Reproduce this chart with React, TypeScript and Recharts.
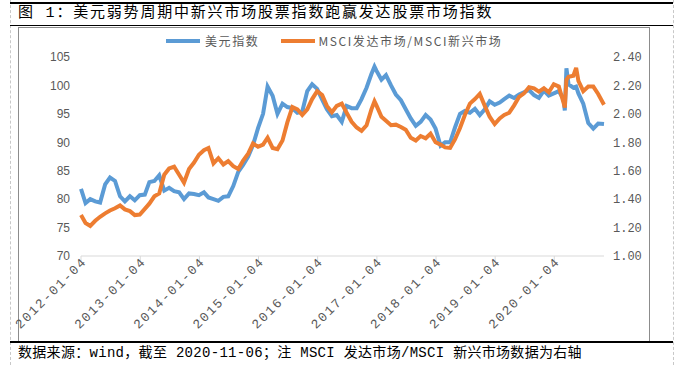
import React from 'react';
import { LineChart, Line, XAxis, YAxis, Legend } from 'recharts';

// dates of the sampled points (monthly, plus a few turning points)
const dates = [
  '2012-01-04', '2012-02-01', '2012-03-01', '2012-04-01', '2012-05-01', '2012-06-01', '2012-07-01', '2012-08-01', '2012-09-01', '2012-10-01', '2012-11-01', '2012-12-01',
  '2013-01-01', '2013-02-01', '2013-03-01', '2013-04-01', '2013-05-01', '2013-06-01', '2013-07-01', '2013-08-01', '2013-09-01', '2013-10-01', '2013-11-01', '2013-12-01',
  '2014-01-01', '2014-02-01', '2014-03-01', '2014-04-01', '2014-05-01', '2014-06-01', '2014-07-01', '2014-08-01', '2014-09-01', '2014-10-01', '2014-11-01', '2014-12-01',
  '2015-01-01', '2015-02-01', '2015-03-01', '2015-04-01', '2015-05-01', '2015-06-01', '2015-07-01', '2015-08-01', '2015-09-01', '2015-10-01', '2015-11-01', '2015-12-01',
  '2016-01-01', '2016-02-01', '2016-03-01', '2016-04-01', '2016-05-01', '2016-06-01', '2016-07-01', '2016-08-01', '2016-09-01', '2016-10-01', '2016-11-01', '2016-12-01', '2016-12-20',
  '2017-01-01', '2017-02-01', '2017-03-01', '2017-04-01', '2017-05-01', '2017-06-01', '2017-07-01', '2017-08-01', '2017-09-01', '2017-10-01', '2017-11-01', '2017-12-01',
  '2018-01-01', '2018-02-01', '2018-03-01', '2018-04-01', '2018-05-01', '2018-06-01', '2018-07-01', '2018-08-01', '2018-09-01', '2018-10-01', '2018-11-01', '2018-12-01',
  '2019-01-01', '2019-02-01', '2019-03-01', '2019-04-01', '2019-05-01', '2019-06-01', '2019-07-01', '2019-08-01', '2019-09-01', '2019-10-01', '2019-11-01', '2019-12-01',
  '2020-01-01', '2020-02-01', '2020-03-01', '2020-03-09', '2020-03-19', '2020-04-01', '2020-05-01', '2020-05-18', '2020-06-01', '2020-07-01', '2020-08-01', '2020-09-01', '2020-10-01', '2020-11-06',
];

// 美元指数 (left axis)
const dxy = [
  81.8, 79.3, 80.0, 79.6, 79.4, 82.6, 83.8, 83.2, 80.5, 79.6, 80.5, 79.8,
  80.7, 80.8, 83.0, 83.2, 84.2, 81.5, 82.0, 81.4, 81.2, 80.0, 81.0, 80.9,
  80.7, 81.2, 80.3, 80.0, 79.7, 80.4, 80.5, 82.3, 84.8, 86.0, 87.5, 89.5,
  92.5, 95.0, 99.8, 98.2, 95.0, 96.8, 96.2, 96.0, 95.2, 95.4, 99.0, 100.2,
  99.4, 97.5, 95.8, 94.6, 94.8, 93.6, 96.4, 96.0, 96.0, 97.6, 99.6, 102.0, 103.3,
  102.6, 101.0, 101.8, 100.0, 98.4, 97.4, 95.8, 94.2, 92.9, 93.6, 94.8, 94.0,
  92.4, 89.4, 90.0, 90.0, 92.6, 95.0, 95.5, 95.2, 95.9, 94.8, 95.8, 97.2,
  96.6, 97.0, 97.6, 98.2, 97.8, 98.4, 98.8, 99.2, 98.3, 97.8, 99.1, 98.2,
  98.6, 99.0, 97.6, 95.6, 103.0, 100.2, 99.6, 99.8, 98.6, 96.8, 93.4, 92.4, 93.3, 93.2,
];

// MSCI发达市场/MSCI新兴市场 (right axis)
const ratio = [
  1.288, 1.232, 1.212, 1.248, 1.276, 1.300, 1.320, 1.336, 1.356, 1.328, 1.316, 1.288,
  1.292, 1.332, 1.368, 1.420, 1.440, 1.572, 1.616, 1.628, 1.572, 1.516, 1.612, 1.656,
  1.712, 1.744, 1.760, 1.652, 1.688, 1.644, 1.668, 1.632, 1.612, 1.672, 1.720, 1.792,
  1.768, 1.784, 1.832, 1.760, 1.752, 1.812, 1.940, 2.048, 2.032, 1.992, 2.032, 2.104,
  2.160, 2.132, 2.056, 2.012, 2.056, 2.072, 2.008, 1.944, 1.904, 1.880, 1.920, 2.032, 2.088,
  2.060, 1.980, 1.952, 1.920, 1.924, 1.908, 1.888, 1.832, 1.812, 1.844, 1.828, 1.860,
  1.800, 1.784, 1.764, 1.760, 1.820, 1.900, 1.992, 2.072, 2.104, 2.140, 2.056, 1.980,
  1.928, 1.968, 1.992, 2.008, 2.060, 2.120, 2.144, 2.188, 2.180, 2.156, 2.180, 2.152,
  2.208, 2.192, 2.080, 2.044, 2.240, 2.260, 2.268, 2.324, 2.232, 2.160, 2.192, 2.192, 2.140, 2.064,
];

const xTickLabels = [
  '2012-01-04', '2013-01-04', '2014-01-04', '2015-01-04', '2016-01-04',
  '2017-01-04', '2018-01-04', '2019-01-04', '2020-01-04',
];
const leftTicks = [70, 75, 80, 85, 90, 95, 100, 105];
const rightTicks = [1.0, 1.2, 1.4, 1.6, 1.8, 2.0, 2.2, 2.4];

const data = dates.map((d, i) => ({ t: Date.parse(d), dxy: dxy[i], ratio: ratio[i] }));

const BLUE = '#5B9BD5';
const ORANGE = '#ED7D31';
const GREY = '#595959';
const MONO = "'Liberation Mono', 'Noto Sans CJK SC', monospace";
const CJK = "'Noto Sans CJK SC', sans-serif";

const fmtDate = (v: number) => new Date(v).toISOString().slice(0, 10);

const XTick = ({ x, y, payload }: any) => (
  <g transform={`translate(${x},${y})`}>
    <text x={5} y={4} textAnchor="end" transform="rotate(-45)" fill={GREY} fontSize={13} letterSpacing={1.7} fontFamily={MONO}>
      {fmtDate(payload.value)}
    </text>
  </g>
);

const LegendBox = () => (
  <div style={{ display: 'flex', alignItems: 'center', fontFamily: CJK, fontSize: 12, color: GREY, letterSpacing: 1.6 }}>
    <svg width={34} height={6} style={{ marginRight: 5 }}>
      <line x1={0} y1={3} x2={34} y2={3} stroke={BLUE} strokeWidth={4} />
    </svg>
    <span style={{ marginRight: 22 }}>美元指数</span>
    <svg width={34} height={6} style={{ marginRight: 3 }}>
      <line x1={0} y1={3} x2={34} y2={3} stroke={ORANGE} strokeWidth={4} />
    </svg>
    <span>MSCI发达市场/MSCI新兴市场</span>
  </div>
);

export default function App() {
  return (
    <div style={{ position: 'absolute', left: 0, top: 0, width: 685, height: 365, background: '#fff', overflow: 'hidden' }}>
      {/* page guides */}
      <div style={{ position: 'absolute', left: 10, top: 0, height: 365, borderLeft: '1px dashed #c8c8c8' }} />
      <div style={{ position: 'absolute', left: 673, top: 0, height: 365, borderLeft: '1px dashed #c8c8c8' }} />
      <div style={{ position: 'absolute', left: 10, top: 2, width: 663, borderTop: '2px solid #000' }} />
      <div style={{ position: 'absolute', left: 18, top: 4, fontFamily: MONO, fontSize: 15, lineHeight: '20px', letterSpacing: 1.8, color: '#000', whiteSpace: 'nowrap' }}>
        图 1：美元弱势周期中新兴市场股票指数跑赢发达股票市场指数
      </div>
      <div style={{ position: 'absolute', left: 10, top: 25, width: 663, borderTop: '1px solid #000' }} />
      <div style={{ position: 'absolute', left: 18, top: 27, width: 630, height: 313, border: '1px solid #8c8c8c' }} />
      <div style={{ position: 'absolute', left: 10, top: 341, width: 663, borderTop: '2px solid #000' }} />
      <div style={{ position: 'absolute', left: 18, top: 343, fontFamily: MONO, fontSize: 14, lineHeight: '20px', letterSpacing: 0.3, color: '#000', whiteSpace: 'nowrap' }}>
        数据来源：wind，截至 2020-11-06；注 MSCI 发达市场/MSCI 新兴市场数据为右轴
      </div>

      <div style={{ position: 'absolute', left: 0, top: 0 }}>
        <LineChart width={685} height={365} data={data} margin={{ top: 40, right: 0, bottom: 49, left: 0 }}>
          <XAxis
            dataKey="t"
            type="number"
            scale="time"
            domain={[Date.parse('2012-01-04'), Date.parse('2020-11-06')]}
            ticks={xTickLabels.map((d) => Date.parse(d))}
            tick={<XTick />}
            height={60}
            tickSize={5}
            tickMargin={2}
            stroke="#d9d9d9"
            interval={0}
          />
          <YAxis
            yAxisId="left"
            orientation="left"
            width={81}
            domain={[70, 105]}
            ticks={leftTicks}
            axisLine={false}
            tickLine={false}
            tickSize={0}
            tickMargin={11}
            tick={{ fill: GREY, fontSize: 12, fontFamily: "'Liberation Sans', sans-serif" }}
            interval={0}
          />
          <YAxis
            yAxisId="right"
            orientation="right"
            width={81}
            domain={[1, 2.4]}
            ticks={rightTicks}
            axisLine={false}
            tickLine={false}
            tickSize={0}
            tickMargin={9}
            tickFormatter={(v: number) => v.toFixed(2)}
            tick={{ fill: GREY, fontSize: 12, fontFamily: MONO }}
            interval={0}
          />
          <Legend verticalAlign="top" content={<LegendBox />} wrapperStyle={{ top: 32, left: 166, width: 400 }} />
          <Line yAxisId="left" type="linear" dataKey="dxy" name="美元指数" stroke={BLUE} strokeWidth={4} dot={false} isAnimationActive={false} />
          <Line yAxisId="right" type="linear" dataKey="ratio" name="MSCI发达市场/MSCI新兴市场" stroke={ORANGE} strokeWidth={4} dot={false} isAnimationActive={false} />
        </LineChart>
      </div>
    </div>
  );
}
